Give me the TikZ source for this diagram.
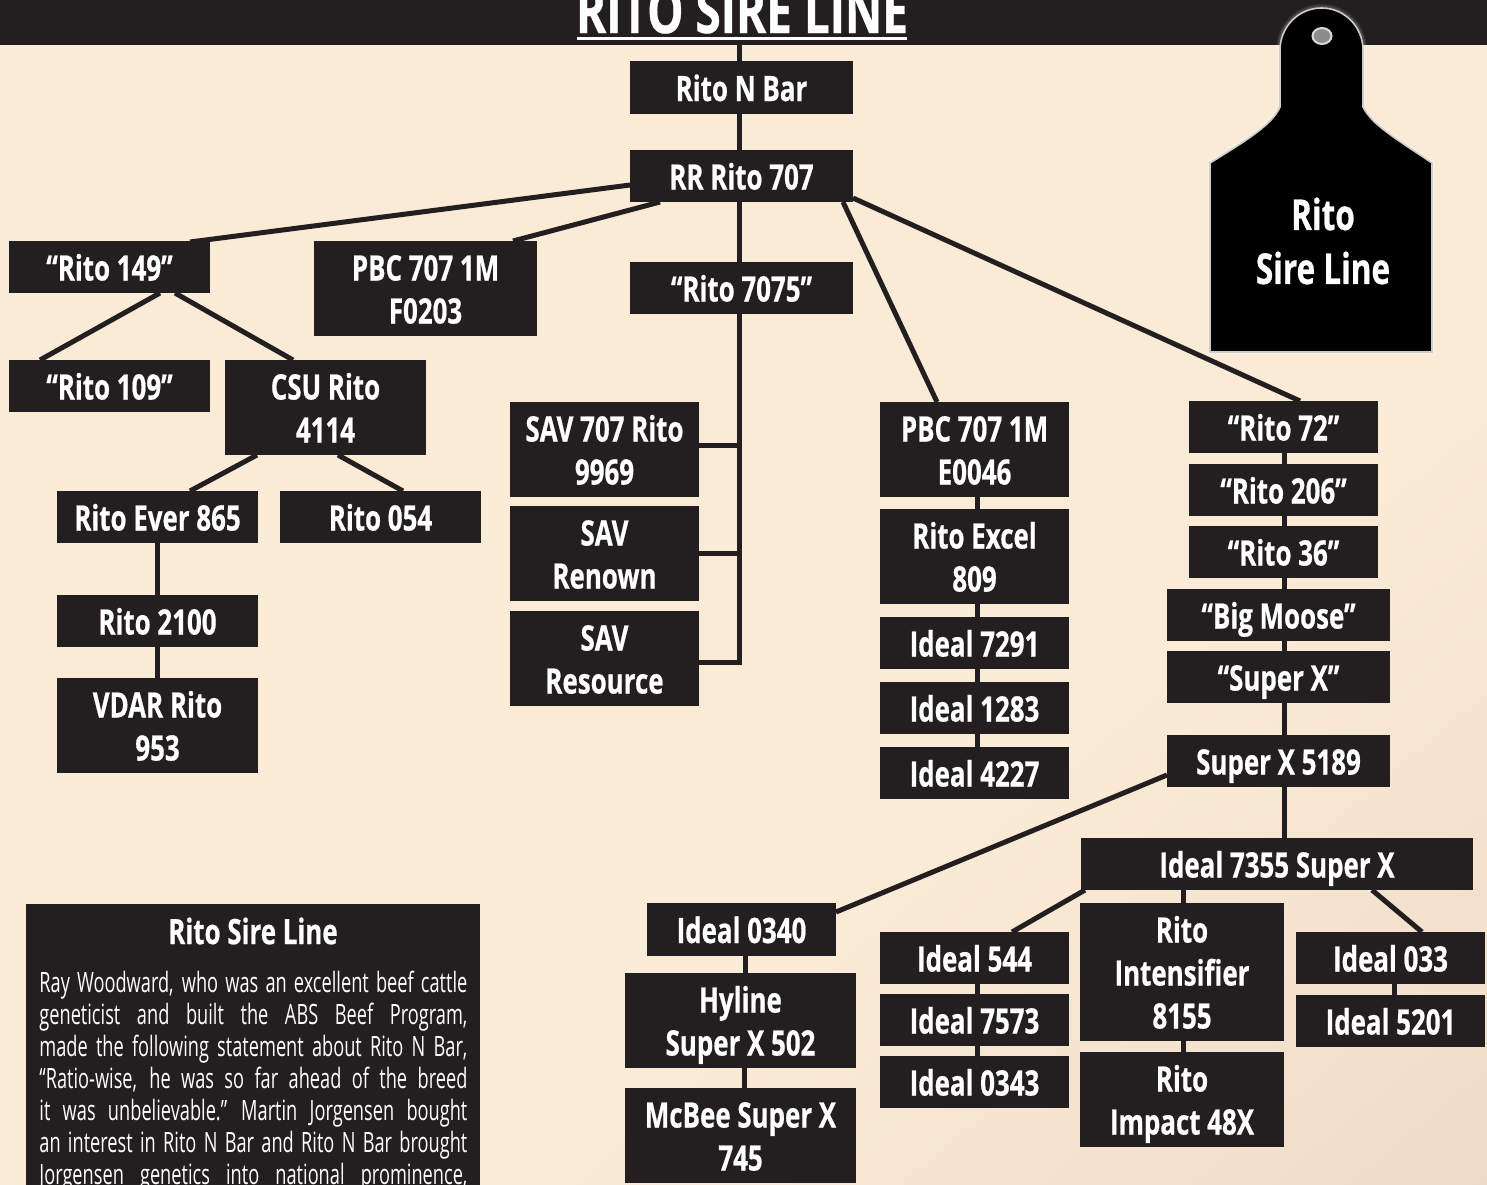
\documentclass[tikz,border=0pt]{standalone}
\usepackage{fontspec}
\usetikzlibrary{calc}
\newfontfamily\boxfont{Open Sans}[FakeStretch=0.74,BoldFont={Open Sans Bold},BoldFeatures={FakeBold=0.6}]
\newfontfamily\bodyfont{Open Sans}[FakeStretch=0.65]
\definecolor{ink}{HTML}{231F20}
\definecolor{paper}{HTML}{FAEBD7}
\definecolor{paperdark}{HTML}{E6D3BC}
\pgfdeclarehorizontalshading{paperfade}{100bp}{color(0bp)=(paper); color(62bp)=(paper); color(100bp)=(paperdark)}
\pgfdeclarelayer{back}
\pgfdeclarelayer{wires}
\pgfsetlayers{back,wires,main}
\tikzset{
  x=0.5pt,y=-0.5pt,
  wire/.style={draw=ink,line width=2.5pt},
  bar/.style={fill=ink,draw=none,text=white,inner sep=0pt,align=center,
    font=\boxfont\bfseries\fontsize{17.5}{21.5}\selectfont},
  tagshape/.style={insert path={
  (1280,50) arc[start angle=180,end angle=0,x radius=41.5,y radius=-42]
  -- (1363,107) .. controls (1372,125) and (1395,138) .. (1432,163)
  -- (1432,352) -- (1210,352) -- (1210,163)
  .. controls (1247,140) and (1272,125) .. (1280,107) -- cycle}},
}
% name, x1, y1, x2, y2, text
\newcommand{\bx}[6]{\node[bar,minimum width={(#4-#2)*0.5pt},minimum height={(#5-#3)*0.5pt}] (#1) at ({(#2+#4)/2},{(#3+#5)/2}) {\rule{0pt}{18pt}#6\rule[-4.5pt]{0pt}{4.5pt}};}
\newcommand{\vlink}[3]{\draw[wire] ($(#1)+(#3,0)$) coordinate (vl) -- (vl |- #2);}
\newcommand{\jline}[1]{\hbox to 214pt{\spaceskip=1.5pt plus 1fil\relax #1}}
\begin{document}
\begin{tikzpicture}
\useasboundingbox (0,0) rectangle (1487,1184);
\clip (0,0) rectangle (1487,1184);
\begin{pgfonlayer}{back}
  \shade[shading=paperfade,shading angle=-50] (0,0) rectangle (1487,1184);
\end{pgfonlayer}

% top banner
\node[bar,minimum width=743.5pt,minimum height=22.5pt] (banner) at (743.5,22.5) {};
\node[text=white,inner sep=0pt,anchor=base,font=\boxfont\bfseries\fontsize{31}{31}\selectfont] (title) at (742,33) {RITO SIRE LINE};
\path[fill=white] (577,36.5) rectangle (907,40);

% boxes
\bx{rnb}{630}{61}{853}{114}{Rito N Bar}
\bx{rr}{630}{150}{853}{202}{RR Rito 707}
\bx{r7075}{630}{262}{853}{314}{“Rito 7075”}
\bx{r149}{9}{241}{210}{293}{“Rito 149”}
\bx{pbcf}{314}{241}{537}{336}{PBC 707 1M\\F0203}
\bx{r109}{9}{360}{210}{412}{“Rito 109”}
\bx{csu}{225}{360}{426}{455}{CSU Rito\\4114}
\bx{ever}{57}{491}{258}{543}{Rito Ever 865}
\bx{r054}{280}{491}{481}{543}{Rito 054}
\bx{r2100}{57}{595}{258}{647}{Rito 2100}
\bx{vdar}{57}{678}{258}{773}{VDAR Rito\\953}
\bx{sav1}{510}{402}{699}{497}{SAV 707 Rito\\9969}
\bx{sav2}{510}{506}{699}{601}{SAV\\Renown}
\bx{sav3}{510}{611}{699}{706}{SAV\\Resource}
\bx{pbce}{880}{402}{1069}{497}{PBC 707 1M\\E0046}
\bx{excel}{880}{509}{1069}{604}{Rito Excel\\809}
\bx{i7291}{880}{617}{1069}{669}{Ideal 7291}
\bx{i1283}{880}{682}{1069}{734}{Ideal 1283}
\bx{i4227}{880}{747}{1069}{799}{Ideal 4227}
\bx{r72}{1189}{401}{1378}{453}{“Rito 72”}
\bx{r206}{1189}{464}{1378}{516}{“Rito 206”}
\bx{r36}{1189}{526}{1378}{578}{“Rito 36”}
\bx{moose}{1167}{589}{1390}{641}{“Big Moose”}
\bx{superx}{1167}{651}{1390}{703}{“Super X”}
\bx{sx}{1167}{735}{1390}{787}{Super X 5189}
\bx{i7355}{1081}{838}{1473}{890}{Ideal 7355 Super X}
\bx{i0340}{647}{903}{836}{956}{Ideal 0340}
\bx{hyline}{625}{973}{856}{1068}{Hyline\\Super X 502}
\bx{mcbee}{625}{1088}{856}{1183}{McBee Super X\\745}
\bx{i544}{880}{932}{1069}{984}{Ideal 544}
\bx{i7573}{880}{994}{1069}{1046}{Ideal 7573}
\bx{i0343}{880}{1056}{1069}{1108}{Ideal 0343}
\bx{intens}{1080}{903}{1284}{1041}{Rito\\Intensifier\\8155}
\bx{impact}{1080}{1052}{1284}{1147}{Rito\\Impact 48X}
\bx{i033}{1296}{932}{1485}{984}{Ideal 033}
\bx{i5201}{1296}{995}{1485}{1047}{Ideal 5201}

% connectors
\begin{pgfonlayer}{wires}
  \vlink{banner}{rnb}{-4.5}
  \vlink{rnb}{rr}{-2.5}
  \vlink{rr}{r7075}{-2.5}
  \draw[wire] ($(r7075)+(-2.5,0)$) -- ($(r7075)+(-2.5,374)$) -- ($(sav3)+(0,3.5)$);
  \draw[wire] ($(sav1)+(0,-4)$) -- ($(sav1)+(134,-4)$);
  \draw[wire] (sav2) -- ($(sav2)+(134,0)$);
  \draw[wire] ($(rr)+(-111.5,9)$) -- ($(r149)+(80.5,-25)$);
  \draw[wire] ($(rr)+(-81.5,26)$) -- ($(pbcf)+(87.5,-47.5)$);
  \draw[wire] ($(rr)+(101.5,26)$) -- ($(pbce)+(-37.5,-47.5)$);
  \draw[wire] ($(rr)+(111.5,22)$) -- ($(r72)+(16.5,-26)$);
  \draw[wire] ($(r149)+(50.5,26)$) -- ($(r109)+(-69.5,-26)$);
  \draw[wire] ($(r149)+(65.5,26)$) -- ($(csu)+(-32.5,-47.5)$);
  \draw[wire] ($(csu)+(-68.5,47.5)$) -- ($(ever)+(32.5,-26)$);
  \draw[wire] ($(csu)+(12.5,47.5)$) -- ($(r054)+(22.5,-26)$);
  \vlink{ever}{r2100}{-0.5}
  \vlink{r2100}{vdar}{-0.5}
  \vlink{pbce}{excel}{2.5}
  \vlink{excel}{i7291}{2.5}
  \vlink{i7291}{i1283}{2.5}
  \vlink{i1283}{i4227}{2.5}
  \vlink{r72}{r206}{0.5}
  \vlink{r206}{r36}{0.5}
  \vlink{r36}{moose}{0.5}
  \vlink{moose}{superx}{5.5}
  \vlink{superx}{sx}{5.5}
  \vlink{sx}{i7355}{5.5}
  \draw[wire] ($(sx)+(-111.5,14)$) -- ($(i0340)+(94.5,-17.5)$);
  \vlink{i0340}{hyline}{3.5}
  \vlink{hyline}{mcbee}{3.5}
  \draw[wire] ($(i7355)+(-192,26)$) -- ($(i544)+(37.5,-26)$);
  \draw[wire] ($(i7355)+(95,26)$) -- ($(i033)+(31.5,-26)$);
  \vlink{i7355}{intens}{-94}
  \vlink{intens}{impact}{1}
  \vlink{i544}{i7573}{2.5}
  \vlink{i7573}{i0343}{2.5}
  \vlink{i033}{i5201}{3.5}
\end{pgfonlayer}

% ear tag
\path[draw=white,draw opacity=0.08,line width=4pt,tagshape];
\path[draw=white,draw opacity=0.12,line width=2.5pt,tagshape];
\path[draw=white!80!black,line width=0.8pt,fill=black,tagshape];
\path[fill=white!55!black,draw=white!85!black,line width=1pt] (1322,36) ellipse[x radius=9.5,y radius=8];
\node[text=white,inner sep=0pt,align=center,font=\boxfont\bfseries\fontsize{21.3}{27}\selectfont] (tag) at (1323,241) {Rito\\Sire Line};

% text panel
\node[bar,minimum width=227pt,minimum height=150pt,anchor=north west] (panel) at (26,904) {};
\node[text=white,inner sep=0pt,font=\boxfont\bfseries\fontsize{17.5}{21}\selectfont] (ptitle) at (253,931) {Rito Sire Line};
\node[text=white,inner sep=0pt,anchor=north west,text width=214pt,font=\bodyfont\fontsize{14}{16}\selectfont] (pbody) at (39,971) {%
  \jline{Ray Woodward, who was an excellent beef cattle}
  \jline{geneticist and built the ABS Beef Program,}
  \jline{made the following statement about Rito N Bar,}
  \jline{“Ratio-wise, he was so far ahead of the breed}
  \jline{it was unbelievable.” Martin Jorgensen bought}
  \jline{an interest in Rito N Bar and Rito N Bar brought}
  \jline{Jorgensen genetics into national prominence,}};
\end{tikzpicture}
\end{document}
